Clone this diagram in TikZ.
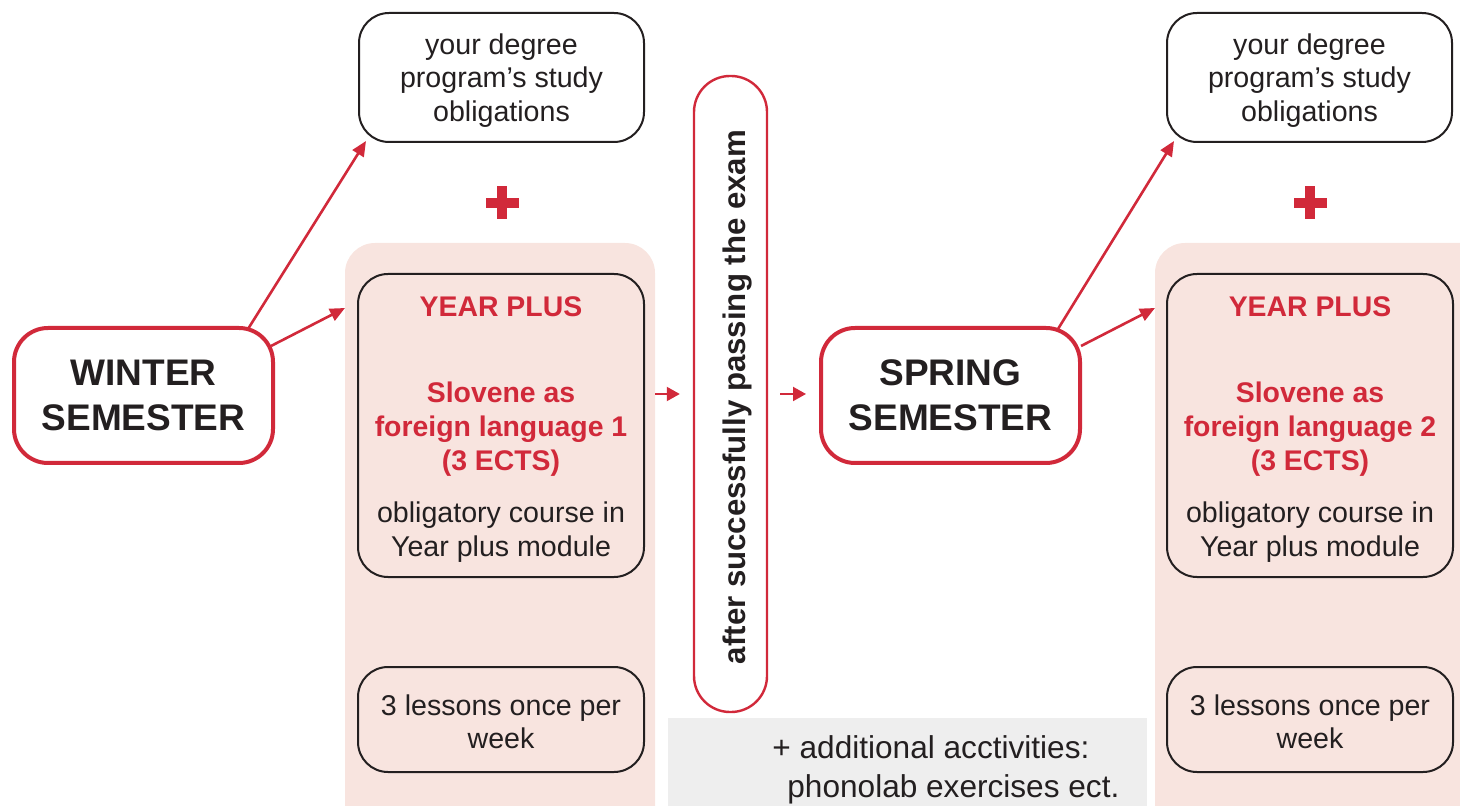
\documentclass[tikz,border=0pt]{standalone}
\usepackage{fontspec}
\setmainfont{Liberation Sans}
\usetikzlibrary{arrows.meta,calc}
\definecolor{ured}{RGB}{209,41,58}
\definecolor{upink}{RGB}{248,228,223}
\definecolor{ugrey}{RGB}{238,238,238}
\definecolor{utext}{RGB}{35,31,32}
\begin{document}
\begin{tikzpicture}[x=0.5pt,y=-0.5pt,
  semester/.style={draw=ured, line width=2pt, rounded corners=17pt, fill=white,
    font=\fontsize{18.5}{22.5}\selectfont\bfseries, align=center,
    minimum width=129.5pt, minimum height=67.5pt, inner sep=0pt, text=utext},
  obox/.style={draw=utext, line width=1pt, rounded corners=15pt, align=center,
    inner sep=0pt, font=\fontsize{14.3}{16.75}\selectfont, text=utext},
  degbox/.style={obox, fill=white, minimum width=142.5pt, minimum height=64.5pt},
  ypbox/.style={obox, minimum width=143pt, minimum height=151.5pt},
  lesbox/.style={obox, minimum width=143pt, minimum height=52.5pt},
  redtitle/.style={text=ured, font=\fontsize{14.2}{17}\selectfont\bfseries, inner sep=0pt, align=center},
  blacktxt/.style={text=utext, font=\fontsize{14.3}{16.75}\selectfont, inner sep=0pt, align=center},
  bg/.style={fill=upink, rounded corners=15pt, inner sep=0pt, draw=none},
  conn/.style={draw=ured, line width=1.3pt, -{Triangle[length=7.5pt,width=6.5pt]}},
  smallarr/.style={draw=ured, line width=1pt, -{Triangle[length=6.5pt,width=7pt]}}
]
\useasboundingbox (0,0) rectangle (1460,806);

% pink backgrounds and grey box
\fill[bg] (345,243) rectangle (655,840);
\fill[bg] (1155,243) rectangle (1490,840);
\coordinate (pinkLR) at (655,400);
\fill[ugrey] (668,718) rectangle (1147,820);

% plus marks
\coordinate (plusL) at (502,203);
\coordinate (plusR) at (1310,203);
\foreach \p in {plusL,plusR}{
  \fill[ured] ($(\p)+(-16.5,-5)$) rectangle ($(\p)+(16.5,5)$);
  \fill[ured] ($(\p)+(-5,-16.5)$) rectangle ($(\p)+(5,16.5)$);
}

% boxes
\node[degbox] (degL) at (501.5,77.5) {};
\node[degbox] (degR) at (1309.5,77.5) {};
\node[blacktxt] (degLt) at (501.5,80.5) {your degree\\program’s study\\obligations};
\node[blacktxt] (degRt) at (1309.5,80.5) {your degree\\program’s study\\obligations};

\node[ypbox] (ypL) at (501,425.5) {};
\node[ypbox] (ypR) at (1310,425.5) {};
\node[lesbox] (lesL) at (501,719.5) {};
\node[lesbox] (lesR) at (1310,719.5) {};
\node[blacktxt] (lesLt) at (501,722) {3 lessons once per\\week};
\node[blacktxt] (lesRt) at (1310,722) {3 lessons once per\\week};

\node[redtitle, anchor=base] (ytL) at (501,317) {YEAR PLUS};
\node[redtitle, anchor=base] (ytR) at (1310,317) {YEAR PLUS};
\node[redtitle] (slL) at (501,429) {Slovene as\\foreign language 1\\(3 ECTS)};
\node[redtitle] (slR) at (1310,429) {Slovene as\\foreign language 2\\(3 ECTS)};
\node[blacktxt] (obL) at (501,532) {obligatory course in\\Year plus module};
\node[blacktxt] (obR) at (1310,532) {obligatory course in\\Year plus module};

% exam pill
\node[draw=ured, line width=1.2pt, rounded corners=18pt, minimum width=36.5pt,
      minimum height=318pt, inner sep=0pt] (exam) at (730.5,394) {};
\node[rotate=90, text=utext, font=\fontsize{15.6}{18}\selectfont\bfseries, inner sep=0pt]
      (examtxt) at (737,397) {after successfully passing the exam};

% grey text
\node[anchor=north west, align=left, inner sep=0pt, text=utext,
      font=\fontsize{15.8}{19.5}\selectfont] (addtxt) at (772,735)
      {+ additional acctivities:\\\hspace*{7.5pt}phonolab exercises ect.};

% connectors
\coordinate (w1) at (248,329);
\coordinate (w2) at (271,346);
\coordinate (s1) at (1058,329);
\coordinate (s2) at (1081,346);
\coordinate (pinLin) at (345,308);
\coordinate (pinRin) at (1155,308);
\draw[conn] (w1) -- ($(degL.south west)+(8,-2)$);
\draw[conn] (w2) -- (pinLin);
\draw[conn] (s1) -- ($(degR.south west)+(8,-2)$);
\draw[conn] (s2) -- (pinRin);

% semester boxes
\node[semester] (winter) at (143.5,395.5) {WINTER\\SEMESTER};
\node[semester] (spring) at (950.5,395.5) {SPRING\\SEMESTER};

% small arrows
\draw[smallarr, shorten >=6.5pt] (pinkLR |- exam.center) -- (exam.west);
\draw[smallarr, shorten <=6pt, shorten >=6.5pt] (exam.east) -- (spring.west |- exam.center);
\end{tikzpicture}
\end{document}
